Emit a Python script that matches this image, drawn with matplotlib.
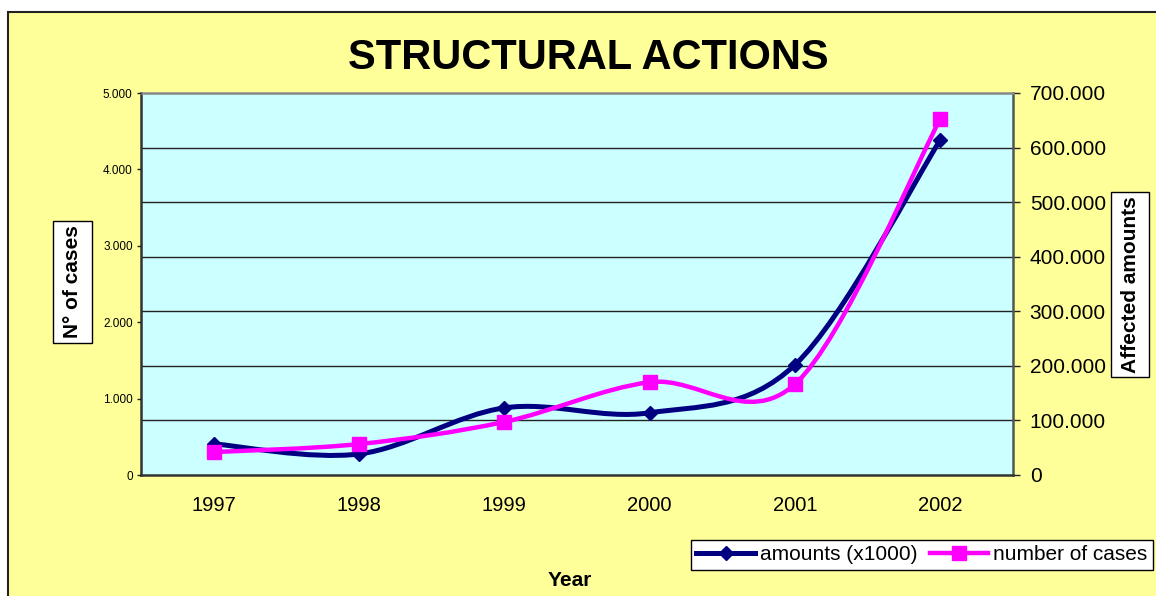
import numpy as np
import matplotlib
matplotlib.use('Agg')
import matplotlib.pyplot as plt
from matplotlib.path import Path
from matplotlib.patches import PathPatch, Rectangle
from matplotlib.lines import Line2D
from matplotlib.ticker import FuncFormatter

years = ['1997', '1998', '1999', '2000', '2001', '2002']
amounts = [57000, 38500, 123000, 114000, 202000, 614000]   # right axis
cases = [300, 405, 695, 1215, 1190, 4660]                   # left axis

NAVY = '#000080'
MAGENTA = '#FF00FF'
YELLOW = '#FFFF99'
CYAN = '#CCFFFF'
W, H = 1156, 596

plt.rcParams['font.family'] = ['Liberation Sans', 'DejaVu Sans']


def dots(v, pos):
    return '{:,.0f}'.format(v).replace(',', '.')


def smooth_path(xs, ys):
    # excel-style smoothed line: cubic bezier with catmull-rom control points
    pts = np.column_stack([xs, ys]).astype(float)
    n = len(pts)
    verts = [pts[0]]
    codes = [Path.MOVETO]
    for i in range(n - 1):
        p0 = pts[max(i - 1, 0)]
        p1 = pts[i]
        p2 = pts[i + 1]
        p3 = pts[min(i + 2, n - 1)]
        verts += [p1 + (p2 - p0) / 6, p2 - (p3 - p1) / 6, p2]
        codes += [Path.CURVE4] * 3
    return Path(verts, codes)


def label_box(x0, y0, x1, y1):
    # white framed box behind an axis title, given in pixels from top-left
    fig.patches.append(Rectangle((x0 / W, 1 - y1 / H), (x1 - x0) / W, (y1 - y0) / H,
                                 transform=fig.transFigure, facecolor='white',
                                 edgecolor='black', linewidth=1, zorder=2))


fig = plt.figure(figsize=(W / 100, H / 100), dpi=100, facecolor='white')
fig.patches.append(Rectangle((8 / W, -0.1), 1.2, 1 - 12 / H + 0.1, transform=fig.transFigure,
                             facecolor=YELLOW, edgecolor='#222222', linewidth=1.5, zorder=-5))

ax2 = fig.add_axes([141 / W, 1 - 475 / H, (1013 - 141) / W, (475 - 93) / H])
ax = ax2.twinx()
ax.yaxis.tick_left()
ax.yaxis.set_label_position('left')
ax2.yaxis.tick_right()
ax.set_zorder(ax2.get_zorder() + 1)
ax.patch.set_visible(False)
ax2.set_facecolor(CYAN)

x = np.arange(len(years))
ax2.set_xlim(-0.5, len(years) - 0.5)
ax.set_xlim(-0.5, len(years) - 0.5)
ax.set_ylim(0, 5000)
ax2.set_ylim(0, 700000)

ax.set_yticks(np.arange(0, 5001, 1000))
ax2.set_yticks(np.arange(0, 700001, 100000))
ax.yaxis.set_major_formatter(FuncFormatter(dots))
ax2.yaxis.set_major_formatter(FuncFormatter(dots))
ax.tick_params(axis='y', labelsize=8.5, length=3, width=1, pad=3, color='#222222')
ax2.tick_params(axis='y', labelsize=15, length=5, width=1, pad=7, color='#222222')

# category axis: ticks between categories, labels centred
ax2.set_xticks(np.arange(-0.5, len(years), 1.0))
ax2.set_xticklabels([])
ax2.set_xticks(x, minor=True)
ax2.set_xticklabels(years, minor=True, fontsize=14.5)
ax2.tick_params(axis='x', which='major', length=4, width=1, color='#222222')
ax2.tick_params(axis='x', which='minor', length=0, pad=15)
ax.set_xticks([])

for a in (ax, ax2):
    for s in a.spines.values():
        s.set_visible(False)
for side in ('left', 'right', 'bottom', 'top'):
    ax2.spines[side].set_visible(True)
    ax2.spines[side].set_linewidth(1.8)
ax2.spines['left'].set_color('#333333')
ax2.spines['right'].set_color('#555555')
ax2.spines['bottom'].set_color('#333333')
ax2.spines['top'].set_color('#888888')

for gy in np.arange(100000, 700000, 100000):
    ax2.axhline(gy, color='#222222', linewidth=1, zorder=1)

ax2.add_patch(PathPatch(smooth_path(x, amounts), facecolor='none', edgecolor=NAVY,
                        linewidth=3.6, zorder=3, capstyle='round'))
ax2.plot(x, amounts, linestyle='none', marker='D', markersize=7.5, color=NAVY, zorder=4)
ax.add_patch(PathPatch(smooth_path(x, cases), facecolor='none', edgecolor=MAGENTA,
                       linewidth=3.2, zorder=3, capstyle='round'))
ax.plot(x, cases, linestyle='none', marker='s', markersize=10.5, color=MAGENTA, zorder=4)

fig.text(588 / W, 1 - 58 / H, 'STRUCTURAL ACTIONS', fontsize=30, fontweight='bold',
         ha='center', va='center')
label_box(53, 221, 92, 343)
fig.text(72.5 / W, 1 - 282 / H, 'N° of cases', fontsize=15, fontweight='bold', rotation=90,
         ha='center', va='center', zorder=3)
label_box(1111, 192, 1149, 377)
fig.text(1130 / W, 1 - 284.5 / H, 'Affected amounts', fontsize=15, fontweight='bold',
         rotation=90, ha='center', va='center', zorder=3)
fig.text(570 / W, 1 - 580 / H, 'Year', fontsize=15, fontweight='bold', ha='center', va='center')

handles = [Line2D([], [], color=NAVY, linewidth=3.6, marker='D', markersize=7.5),
           Line2D([], [], color=MAGENTA, linewidth=3.2, marker='s', markersize=10.5)]
leg = fig.legend(handles, ['amounts (x1000)', 'number of cases'], loc='center',
                 bbox_to_anchor=(922 / W, 1 - 555 / H), ncol=2, fontsize=15,
                 frameon=True, fancybox=False, handlelength=2.8, handletextpad=0.25,
                 columnspacing=0.6, borderpad=0.25, borderaxespad=0)
leg.get_frame().set_edgecolor('black')
leg.get_frame().set_linewidth(1)
leg.get_frame().set_facecolor('white')
leg.get_frame().set_alpha(1)

fig.savefig('out.png', dpi=100, facecolor=fig.get_facecolor())
